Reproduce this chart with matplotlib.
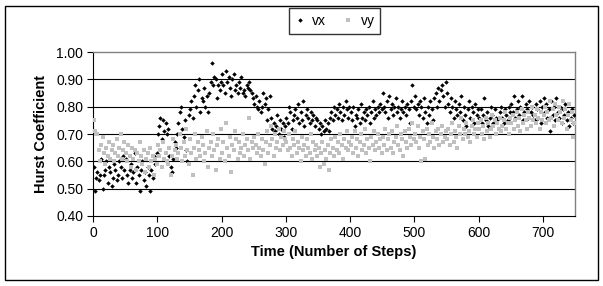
import numpy as np
import matplotlib
matplotlib.use("Agg")
import matplotlib.pyplot as plt
from matplotlib.patches import Rectangle

plt.rcParams['font.family'] = ['Liberation Sans', 'DejaVu Sans']

# one estimate every 2 steps (hundredths of the Hurst coefficient)
steps = np.arange(1, 750, 2)

vx_pct = [
    58, 49, 54, 56, 53, 55, 61, 50, 55, 57, 60, 52, 58, 56, 51, 54, 59, 57, 53, 55, 60, 58, 54, 62, 57,
    61, 55, 52, 57, 59, 54, 56, 63, 52, 58, 55, 49, 57, 60, 53, 56, 51, 58, 55, 49, 57, 54, 62, 59, 63,
    70, 73, 76, 68, 75, 71, 74, 70, 72, 62, 58, 56, 61, 67, 65, 70, 74, 78, 80, 72, 69, 75, 64, 60, 77,
    79, 82, 76, 84, 88, 80, 86, 90, 78, 83, 82, 87, 80, 84, 78, 85, 89, 96, 88, 91, 90, 83, 88, 86, 89,
    92, 88, 85, 93, 89, 91, 87, 84, 90, 92, 86, 88, 85, 89, 87, 91, 85, 86, 84, 88, 87, 89, 86, 85, 83,
    81, 84, 80, 79, 82, 78, 80, 85, 81, 83, 75, 79, 84, 76, 72, 74, 71, 73, 77, 70, 75, 72, 74, 69, 73,
    76, 74, 80, 78, 72, 75, 77, 79, 76, 81, 74, 78, 75, 82, 73, 77, 79, 76, 74, 78, 75, 77, 73, 76, 75,
    72, 74, 70, 73, 71, 75, 72, 74, 71, 76, 78, 75, 80, 77, 79, 76, 81, 78, 75, 80, 77, 82, 79, 76, 80,
    78, 75, 80, 73, 77, 76, 79, 74, 81, 76, 78, 75, 79, 77, 80, 74, 78, 82, 76, 79, 77, 80, 78, 81, 79,
    85, 80, 78, 82, 76, 84, 79, 81, 77, 80, 83, 78, 80, 76, 79, 82, 78, 80, 77, 81, 79, 74, 82, 88, 80,
    84, 79, 81, 77, 82, 80, 76, 83, 78, 74, 80, 77, 82, 79, 75, 83, 85, 80, 87, 82, 86, 88, 84, 80, 89,
    85, 81, 78, 83, 80, 76, 82, 79, 77, 81, 78, 84, 75, 80, 77, 73, 79, 82, 76, 80, 78, 74, 81, 77, 79,
    76, 79, 74, 77, 83, 75, 78, 73, 76, 80, 77, 74, 79, 76, 75, 72, 78, 80, 76, 74, 79, 77, 75, 80, 78,
    81, 78, 84, 76, 79, 82, 77, 80, 84, 75, 78, 81, 79, 76, 82, 78, 80, 77, 75, 81, 79, 76, 82, 74, 80,
    83, 78, 81, 76, 79, 71, 82, 77, 80, 75, 83, 78, 76, 80, 74, 79, 77, 81, 75, 78, 73, 76, 79, 74, 77,
]

vy_pct = [
    75, 71, 70, 70, 64, 60, 66, 69, 63, 59, 65, 62, 67, 61, 64, 66, 60, 63, 68, 62, 65, 70, 61, 64, 67,
    63, 60, 66, 62, 58, 65, 61, 64, 57, 63, 60, 67, 62, 59, 64, 56, 61, 63, 58, 65, 60, 62, 55, 61, 59,
    66, 62, 64, 58, 67, 61, 63, 60, 59, 65, 55, 62, 68, 64, 66, 61, 63, 70, 65, 60, 67, 62, 72, 64, 59,
    68, 63, 55, 65, 70, 61, 67, 64, 62, 69, 66, 60, 63, 71, 58, 65, 67, 62, 70, 64, 57, 66, 68, 61, 72,
    63, 67, 60, 74, 65, 62, 69, 56, 66, 64, 71, 68, 61, 67, 63, 65, 70, 62, 66, 68, 64, 76, 61, 67, 65,
    69, 66, 63, 70, 65, 62, 68, 64, 59, 67, 71, 63, 66, 73, 68, 62, 70, 65, 67, 72, 64, 69, 66, 71, 68,
    67, 64, 70, 65, 62, 68, 66, 71, 63, 67, 65, 60, 69, 64, 66, 62, 68, 65, 63, 70, 61, 67, 64, 66, 62,
    65, 58, 63, 67, 59, 64, 61, 66, 57, 63, 68, 65, 62, 69, 64, 67, 63, 70, 66, 61, 68, 65, 71, 64, 67,
    66, 69, 63, 71, 65, 68, 62, 67, 70, 64, 66, 72, 63, 68, 65, 60, 69, 66, 71, 64, 67, 70, 65, 68, 63,
    69, 66, 72, 64, 68, 70, 65, 71, 63, 67, 69, 73, 66, 64, 70, 68, 62, 71, 67, 65, 72, 69, 66, 74, 68,
    70, 67, 73, 65, 69, 60, 71, 68, 61, 72, 66, 70, 67, 74, 69, 65, 71, 68, 72, 66, 70, 73, 67, 69, 71,
    68, 72, 66, 70, 74, 67, 71, 69, 65, 73, 70, 76, 68, 72, 70, 74, 69, 71, 67, 73, 75, 70, 72, 69, 74,
    72, 75, 70, 73, 68, 76, 71, 74, 69, 72, 77, 73, 75, 70, 74, 72, 76, 71, 73, 75, 78, 72, 74, 70, 76,
    74, 77, 72, 75, 78, 73, 76, 71, 79, 74, 77, 75, 72, 78, 76, 73, 80, 75, 77, 74, 79, 76, 72, 78, 75,
    77, 80, 74, 78, 75, 82, 76, 79, 73, 81, 77, 75, 80, 78, 74, 82, 76, 79, 72, 77, 81, 75, 78, 69, 74,
]

vx = np.array(vx_pct) / 100
vy = np.array(vy_pct) / 100

fig = plt.figure(figsize=(6.03, 2.86), dpi=100)
ax = fig.add_axes([93 / 603, 1 - 216 / 286, 482 / 603, 164 / 286])

ax.plot(steps, vx, linestyle='none', marker='D', ms=2.3, mew=0, color='black', label='vx', zorder=3)
ax.plot(steps, vy, linestyle='none', marker='s', ms=2.6, mew=0, color='#c0c0c0', label='vy', zorder=4)

ax.set_xlim(0, 750)
ax.set_ylim(0.4, 1.0)
ax.set_xticks(range(0, 701, 100))
ax.set_yticks(np.arange(0.4, 1.01, 0.1))
ax.yaxis.set_major_formatter(matplotlib.ticker.FormatStrFormatter('%.2f'))
ax.tick_params(direction='out', length=4, width=0.8, labelsize=10, pad=3)

for g in [0.5, 0.6, 0.7, 0.8, 0.9]:
    ax.axhline(g, color='black', lw=0.8, zorder=1)

for s in ['top', 'right']:
    ax.spines[s].set_color('#808080')
    ax.spines[s].set_linewidth(1.0)
for s in ['left', 'bottom']:
    ax.spines[s].set_color('black')
    ax.spines[s].set_linewidth(0.8)

ax.set_xlabel('Time (Number of Steps)', fontsize=10.5, fontweight='bold', labelpad=4)
ax.set_ylabel('Hurst Coefficient', fontsize=10.5, fontweight='bold', labelpad=6)

leg = ax.legend(loc='center', bbox_to_anchor=(334.5 / 603, 1 - 21 / 286), bbox_transform=fig.transFigure,
                ncol=2, fontsize=10, frameon=True, fancybox=False, markerscale=1.0,
                handlelength=0.8, handletextpad=0.5, columnspacing=1.2, borderpad=0.4)
leg.get_frame().set_edgecolor('black')
leg.get_frame().set_linewidth(1.0)

fig.patches.append(Rectangle((5 / 603, 1 - 280 / 286), 593 / 603, 274 / 286, transform=fig.transFigure,
                             fill=False, edgecolor='black', lw=1.0))

fig.savefig('out.png', dpi=100)
